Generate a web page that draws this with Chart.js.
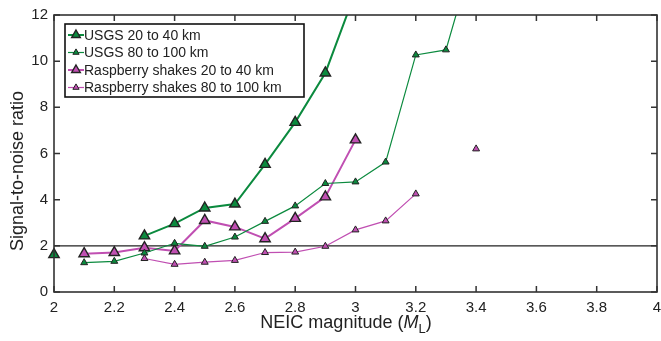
<!DOCTYPE html>
<html>
<head>
<meta charset="utf-8">
<script src="https://cdn.jsdelivr.net/npm/chart.js@4/dist/chart.umd.min.js"></script>
<style>
  html, body { margin: 0; padding: 0; background: #fff; }
  #wrap { width: 661px; height: 341px; }
</style>
</head>
<body>
<div id="wrap"><canvas id="snr"></canvas></div>
<script>
// NEIC magnitude bins
const magnitudes = [2.0, 2.1, 2.2, 2.3, 2.4, 2.5, 2.6, 2.7, 2.8, 2.9, 3.0, 3.1, 3.2, 3.3, 3.4];

const usgs20to40 = [1.62, null, null, 2.43, 2.96, 3.64, 3.81, 5.53, 7.35, 9.49, 13.0, null, null, null, null];
const usgs80to100 = [null, 1.27, 1.33, 1.69, 2.11, 1.98, 2.38, 3.06, 3.73, 4.70, 4.77, 5.63, 10.27, 10.49, 15.0];
const rasp20to40 = [null, 1.66, 1.71, 1.92, 1.78, 3.10, 2.82, 2.31, 3.19, 4.12, 6.59, null, null, null, null];
const rasp80to100 = [null, null, null, 1.45, 1.20, 1.29, 1.37, 1.71, 1.73, 1.98, 2.69, 3.08, 4.25, null, 6.20];

const xTicks = [2, 2.2, 2.4, 2.6, 2.8, 3, 3.2, 3.4, 3.6, 3.8, 4];
const yTicks = [0, 2, 4, 6, 8, 10, 12];
const threshold = 2;

const green = '#0b8a3e';
const magenta = '#c04fb2';
const font = '"Liberation Sans", Arial, sans-serif';

function pts(vals) {
  return magnitudes.map((m, i) => ({ x: m, y: vals[i] }));
}

function series(label, vals, color, thick) {
  return {
    label: label,
    data: pts(vals),
    borderColor: color,
    backgroundColor: color,
    borderWidth: thick ? 2 : 1.2,
    pointStyle: 'triangle',
    pointRadius: thick ? 6 : 4,
    pointBorderColor: '#222',
    pointBackgroundColor: color,
    pointBorderWidth: thick ? 1.4 : 1,
    legendRadius: thick ? 5 : 3.6,
    spanGaps: false,
    clip: { left: 10, top: 0, right: 5, bottom: 10 }
  };
}

// frame, inward ticks, the SNR = 2 line, legend box and axis titles
const decorations = {
  id: 'decorations',
  beforeDatasetsDraw(chart) {
    const { ctx, chartArea: a, scales: { y } } = chart;
    ctx.save();
    ctx.strokeStyle = '#222';
    ctx.lineWidth = 1.2;
    const yp = y.getPixelForValue(threshold);
    ctx.beginPath();
    ctx.moveTo(a.left, yp);
    ctx.lineTo(a.right, yp);
    ctx.stroke();
    ctx.restore();
  },
  afterDatasetsDraw(chart) {
    const { ctx, chartArea: a, scales: { x, y } } = chart;
    ctx.save();
    ctx.strokeStyle = '#333';
    ctx.lineWidth = 1.6;
    ctx.strokeRect(a.left, a.top, a.right - a.left, a.bottom - a.top);

    ctx.lineWidth = 1.5;
    ctx.beginPath();
    xTicks.forEach(v => {
      const p = x.getPixelForValue(v);
      ctx.moveTo(p, a.bottom); ctx.lineTo(p, a.bottom - 6);
      ctx.moveTo(p, a.top); ctx.lineTo(p, a.top + 6);
    });
    yTicks.forEach(v => {
      const p = y.getPixelForValue(v);
      ctx.moveTo(a.left, p); ctx.lineTo(a.left + 6, p);
      ctx.moveTo(a.right, p); ctx.lineTo(a.right - 6, p);
    });
    ctx.stroke();

    // legend
    const lx = 65, ly = 24, lw = 239, lh = 73;
    ctx.fillStyle = '#fff';
    ctx.fillRect(lx, ly, lw, lh);
    ctx.strokeStyle = '#111';
    ctx.lineWidth = 1.6;
    ctx.strokeRect(lx, ly, lw, lh);
    ctx.font = '14px ' + font;
    ctx.textBaseline = 'middle';
    chart.data.datasets.forEach((ds, i) => {
      const cy = ly + 11 + i * 17.5;
      ctx.strokeStyle = ds.borderColor;
      ctx.lineWidth = ds.borderWidth;
      ctx.beginPath();
      ctx.moveTo(lx + 3, cy);
      ctx.lineTo(lx + 19, cy);
      ctx.stroke();
      const r = ds.legendRadius;
      ctx.fillStyle = ds.pointBackgroundColor;
      ctx.strokeStyle = ds.pointBorderColor;
      ctx.lineWidth = ds.pointBorderWidth;
      ctx.beginPath();
      ctx.moveTo(lx + 11, cy - r);
      ctx.lineTo(lx + 11 + r * 0.866, cy + r * 0.5);
      ctx.lineTo(lx + 11 - r * 0.866, cy + r * 0.5);
      ctx.closePath();
      ctx.fill();
      ctx.stroke();
      ctx.fillStyle = '#222';
      ctx.textAlign = 'left';
      ctx.fillText(ds.label, lx + 19, cy + 1);
    });

    // x title with italic M and subscript L
    const parts = [
      { t: 'NEIC magnitude (', f: '18px ' + font, dy: 0 },
      { t: 'M', f: 'italic 18px ' + font, dy: 0 },
      { t: 'L', f: '13px ' + font, dy: 5 },
      { t: ')', f: '18px ' + font, dy: 0 }
    ];
    let total = 0;
    parts.forEach(p => { ctx.font = p.f; p.w = ctx.measureText(p.t).width; total += p.w; });
    let cx = 346 - total / 2;
    const ty = 328;
    ctx.fillStyle = '#222';
    ctx.textAlign = 'left';
    ctx.textBaseline = 'alphabetic';
    parts.forEach(p => {
      ctx.font = p.f;
      ctx.fillText(p.t, cx, ty + p.dy);
      cx += p.w;
    });

    // y title
    ctx.translate(23, 171);
    ctx.rotate(-Math.PI / 2);
    ctx.font = '18px ' + font;
    ctx.textAlign = 'center';
    ctx.fillText('Signal-to-noise ratio', 0, 0);
    ctx.restore();
  }
};

new Chart(document.getElementById('snr').getContext('2d'), {
  type: 'line',
  data: {
    datasets: [
      series('USGS 20 to 40 km', usgs20to40, green, true),
      series('USGS 80 to 100 km', usgs80to100, green, false),
      series('Raspberry shakes 20 to 40 km', rasp20to40, magenta, true),
      series('Raspberry shakes 80 to 100 km', rasp80to100, magenta, false)
    ]
  },
  options: {
    responsive: true,
    maintainAspectRatio: false,
    animation: false,
    layout: { autoPadding: false, padding: { top: 15, right: 4, left: 0, bottom: 0 } },
    plugins: {
      legend: { display: false },
      tooltip: { enabled: false }
    },
    scales: {
      x: {
        type: 'linear',
        min: 2,
        max: 4,
        afterFit: s => { s.height = 49; s.paddingLeft = 0; s.paddingRight = 0; },
        afterBuildTicks: s => { s.ticks = xTicks.map(v => ({ value: v })); },
        grid: { display: false, drawTicks: false },
        border: { display: false },
        ticks: {
          color: '#222',
          padding: 7,
          font: { family: font, size: 15 },
          callback: v => String(v)
        }
      },
      y: {
        min: 0,
        max: 12,
        afterFit: s => { s.width = 54; s.paddingTop = 0; s.paddingBottom = 0; },
        afterBuildTicks: s => { s.ticks = yTicks.map(v => ({ value: v })); },
        grid: { display: false, drawTicks: false },
        border: { display: false },
        ticks: {
          color: '#222',
          padding: 6,
          font: { family: font, size: 15 }
        }
      }
    }
  },
  plugins: [decorations]
});
</script>
</body>
</html>
